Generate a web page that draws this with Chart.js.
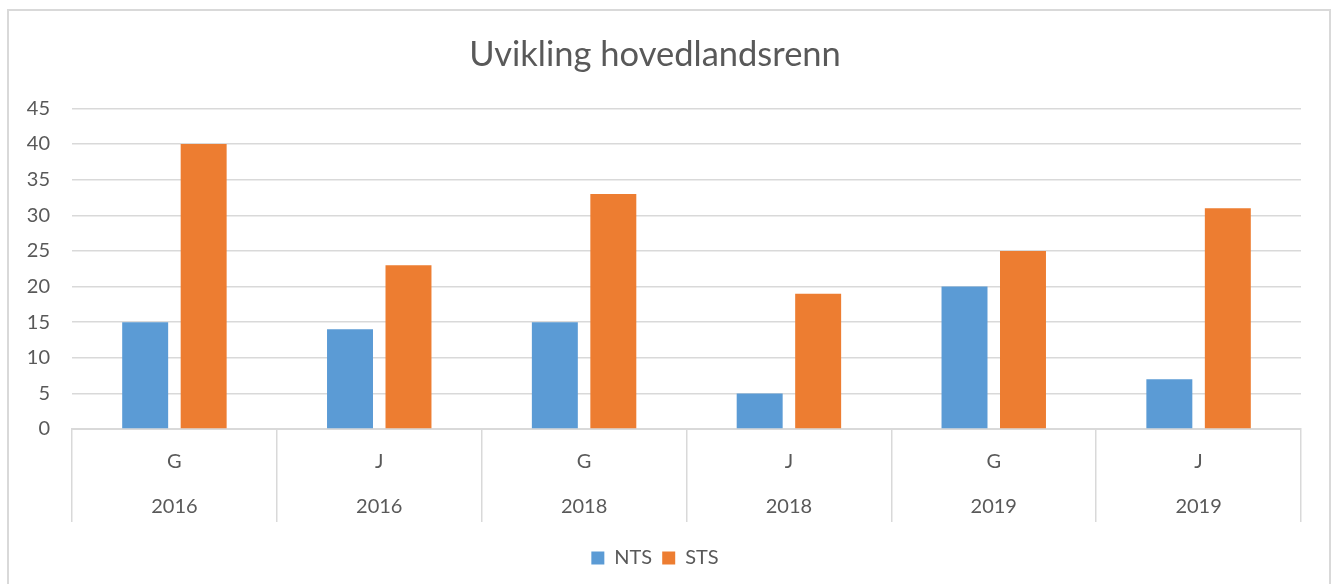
<!DOCTYPE html>
<html>
<head>
<meta charset="utf-8">
<script src="https://cdn.jsdelivr.net/npm/chart.js@4"></script>
<style>
  body { margin: 0; background: #fff; overflow: hidden; }
  #box {
    position: absolute; left: 7px; top: 9px;
    width: 1320px; height: 600px;
    border: 2px solid #d9d9d9; border-bottom: none;
  }
</style>
</head>
<body>
<div id="box"><canvas id="chart" width="1320" height="600"></canvas></div>
<script>
// Chart data
const types = ['G', 'J', 'G', 'J', 'G', 'J'];
const years = ['2016', '2016', '2018', '2018', '2019', '2019'];
const ntsValues = [15, 14, 15, 5, 20, 7];
const stsValues = [40, 23, 33, 19, 25, 31];
const yTicks = [0, 5, 10, 15, 20, 25, 30, 35, 40, 45];

const labels = types.map((t, i) => [t, years[i]]);
const textColor = '#595959';
const lineColor = '#d9d9d9';

Chart.defaults.font.family = 'Lato, "Open Sans", sans-serif';
Chart.defaults.color = textColor;

new Chart(document.getElementById('chart'), {
    type: 'bar',
    data: {
        labels: labels,
        datasets: [
            { label: 'NTS', data: ntsValues, backgroundColor: '#5b9bd5' },
            { label: 'STS', data: stsValues, backgroundColor: '#ed7d31' }
        ]
    },
    options: {
        responsive: false,
        animation: false,
        categoryPercentage: 0.571,
        barPercentage: 0.786,
        layout: { padding: { left: 0, right: 28, top: 0, bottom: 33 } },
        plugins: {
            title: {
                display: true,
                text: 'Uvikling hovedlandsrenn',
                color: textColor,
                font: { size: 34.5, weight: 'normal' },
                padding: { top: 23, bottom: 33 }
            },
            legend: {
                position: 'bottom',
                labels: {
                    boxWidth: 13,
                    boxHeight: 13,
                    font: { size: 20 },
                    color: textColor,
                    padding: 10
                }
            },
            tooltip: { enabled: false }
        },
        scales: {
            x: {
                grid: {
                    offset: true,
                    drawOnChartArea: false,
                    tickLength: 93,
                    color: lineColor,
                    lineWidth: 1.5
                },
                border: { color: lineColor, width: 2 },
                ticks: {
                    font: { size: 20, lineHeight: 2.25 },
                    color: textColor,
                    padding: -83,
                    maxRotation: 0
                },
                afterFit: scale => { scale.height = 109; }
            },
            y: {
                min: 0,
                max: 45,
                afterBuildTicks: scale => { scale.ticks = yTicks.map(v => ({ value: v })); },
                grid: { color: lineColor, lineWidth: 1.5, drawTicks: false },
                border: { display: false },
                ticks: { font: { size: 20 }, color: textColor, padding: 22 },
                afterFit: scale => { scale.width = 63; }
            }
        }
    }
});
</script>
</body>
</html>
